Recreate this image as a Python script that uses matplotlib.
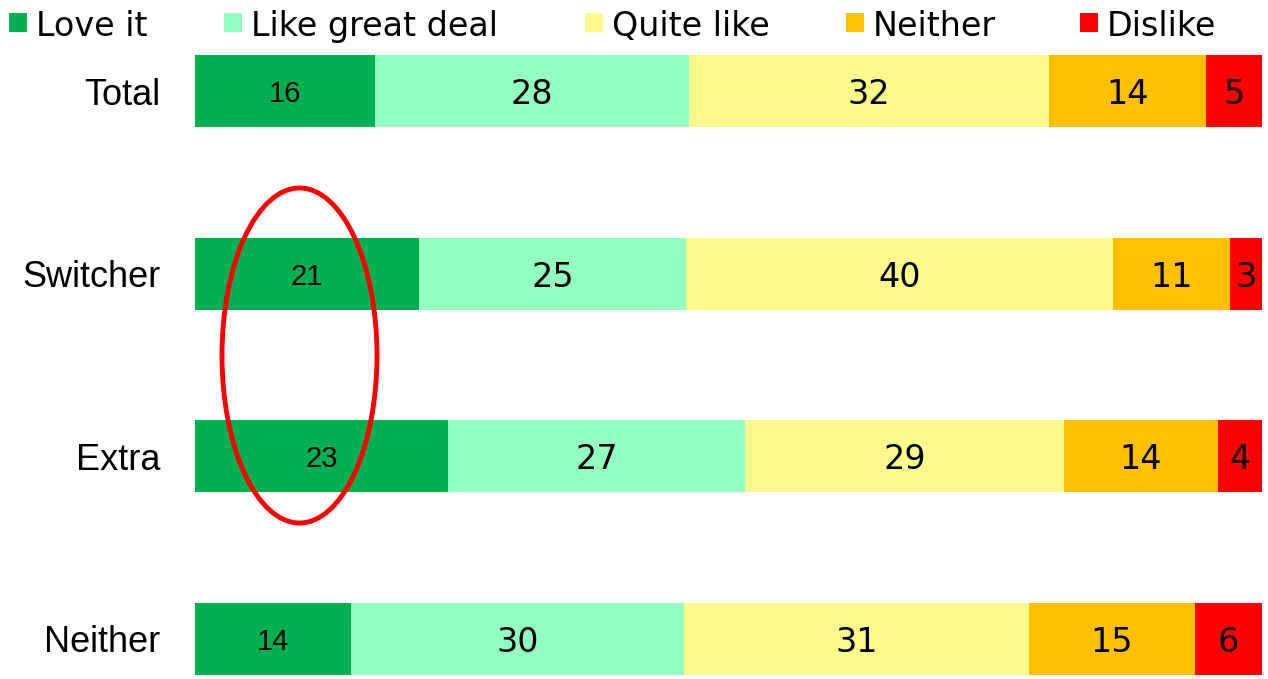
import numpy as np
import matplotlib
matplotlib.use('Agg')
import matplotlib.pyplot as plt
from matplotlib.patches import Ellipse, Rectangle

# Data
groups = ['Total', 'Switcher', 'Extra', 'Neither']
answers = ['Love it', 'Like great deal', 'Quite like', 'Neither', 'Dislike']
love_it = [16, 21, 23, 14]
like_great = [28, 25, 27, 30]
quite_like = [32, 40, 29, 31]
neither = [14, 11, 14, 15]
dislike = [5, 3, 4, 6]
colors = ['#00B050', '#92FFC0', '#FAFA8C', '#FFC000', '#FF0000']

values = np.array([love_it, like_great, quite_like, neither, dislike], dtype=float)
shares = values / values.sum(axis=0)  # each bar fills the full width

fig = plt.figure(figsize=(12.68, 6.79), dpi=100)
bar_h = 0.395
ax = fig.add_axes([195 / 1268, 1 - 675 / 679, 1067 / 1268, 620 / 679])

y = np.arange(len(groups))
left = np.zeros(len(groups))
for i, ans in enumerate(answers):
    ax.barh(y, shares[i], left=left, height=bar_h, color=colors[i], edgecolor='none')
    for j in range(len(groups)):
        cx = left[j] + shares[i][j] / 2
        if i == 0:
            ax.text(cx, y[j], str(int(values[i][j])), ha='center', va='center_baseline',
                    fontsize=21, family='Liberation Sans', color='black')
        else:
            ax.text(cx, y[j], str(int(values[i][j])), ha='center', va='center_baseline',
                    fontsize=24, family='DejaVu Sans', color='black')
    left += shares[i]

ax.set_xlim(0, 1)
ax.set_ylim(len(groups) - 1 + bar_h / 2, -bar_h / 2)
ax.set_yticks(y)
ax.set_yticklabels(groups, fontsize=26, family='Liberation Sans')
ax.tick_params(axis='y', length=0, pad=25)
ax.set_xticks([])
for s in ax.spines.values():
    s.set_visible(False)

# legend along the top, laid out like the original slide
leg_x = [9, 224, 585, 846, 1080]
for i, ans in enumerate(answers):
    fig.patches.append(Rectangle((leg_x[i] / 1268, 1 - 32 / 679), 18 / 1268, 19 / 679,
                                 transform=fig.transFigure, facecolor=colors[i],
                                 edgecolor='none'))
    fig.text((leg_x[i] + 27) / 1268, 1 - 36 / 679, ans, fontsize=24,
             family='DejaVu Sans', ha='left', va='baseline')

# red highlight ellipse
fig.patches.append(Ellipse((299.5 / 1268, 1 - 355.5 / 679), 155 / 1268, 335 / 679,
                           transform=fig.transFigure, facecolor='none',
                           edgecolor='#FF0000', linewidth=3.5))

fig.savefig('out.png', dpi=100)
